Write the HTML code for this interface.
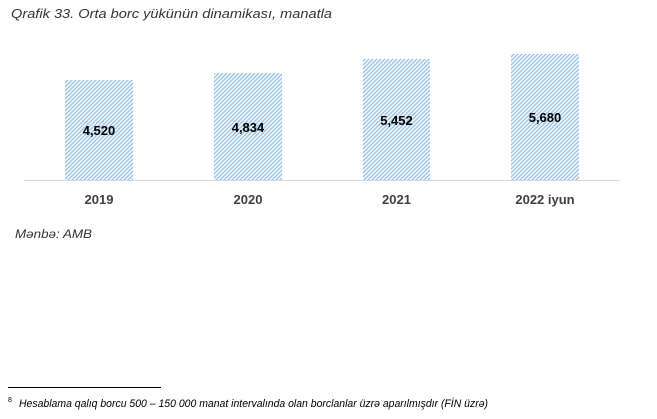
<!DOCTYPE html>
<html><head><meta charset="utf-8"><style>
html,body{margin:0;padding:0;background:#fff;width:657px;height:419px;overflow:hidden}
svg{display:block}
</style></head><body>
<svg width="657" height="419" viewBox="0 0 657 419" xmlns="http://www.w3.org/2000/svg">
<defs>
<pattern id="h" patternUnits="userSpaceOnUse" width="4" height="4">
<rect width="4" height="4" fill="#fff"/>
<path d="M-1,1 L1,-1 M0,4 L4,0 M3,5 L5,3" stroke="#9dc3e6" stroke-width="1.5"/>
</pattern>
</defs>
<text x="11" y="18" font-family="Liberation Sans, sans-serif" font-style="italic" font-size="13" fill="#333" textLength="321" lengthAdjust="spacingAndGlyphs">Qrafik 33. Orta borc yükünün dinamikası, manatla</text>
<rect x="65" y="80" width="68" height="100" fill="url(#h)"/>
<rect x="214" y="73" width="68" height="107" fill="url(#h)"/>
<rect x="363" y="59" width="67" height="121" fill="url(#h)"/>
<rect x="511" y="54" width="68" height="126" fill="url(#h)"/>
<line x1="24" y1="180.5" x2="620" y2="180.5" stroke="#d9d9d9" stroke-width="1"/>
<g font-family="Liberation Sans, sans-serif" font-weight="bold" font-size="13" fill="#000" text-anchor="middle">
<text x="99" y="135">4,520</text>
<text x="248" y="132">4,834</text>
<text x="396.5" y="125">5,452</text>
<text x="545" y="122">5,680</text>
</g>
<g font-family="Liberation Sans, sans-serif" font-weight="bold" font-size="13" fill="#404040" text-anchor="middle">
<text x="99" y="204">2019</text>
<text x="248" y="204">2020</text>
<text x="396.5" y="204">2021</text>
<text x="545" y="204">2022 iyun</text>
</g>
<text x="15" y="238" font-family="Liberation Sans, sans-serif" font-style="italic" font-size="12" fill="#333" textLength="77" lengthAdjust="spacingAndGlyphs">Mənbə: AMB</text>
<line x1="8" y1="387.5" x2="161" y2="387.5" stroke="#000" stroke-width="1"/>
<text x="8" y="402" font-family="Liberation Sans, sans-serif" font-size="7" fill="#000">8</text>
<text x="19" y="407" font-family="Liberation Sans, sans-serif" font-style="italic" font-size="11" fill="#000" textLength="469" lengthAdjust="spacingAndGlyphs">Hesablama qalıq borcu 500 – 150 000 manat intervalında olan borclanlar üzrə aparılmışdır (FİN üzrə)</text>
</svg>
</body></html>
